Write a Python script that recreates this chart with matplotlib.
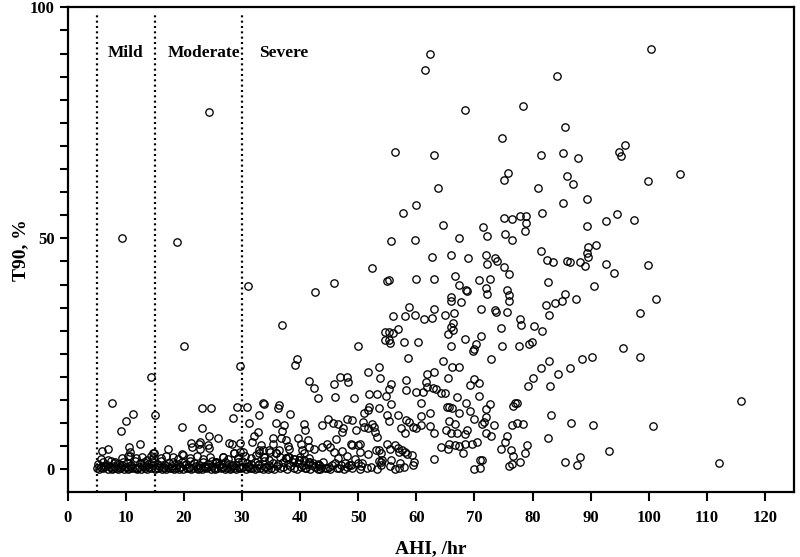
import matplotlib
matplotlib.use("Agg")
import matplotlib.pyplot as plt

plt.rcParams['font.family'] = ['Liberation Serif', 'DejaVu Serif']
plt.rcParams['font.weight'] = 'bold'

# sparse points (upper part of the cloud)
ahi_high = [24.4, 9.3, 18.8, 31.0, 36.8, 39.4, 39.2, 20.1, 14.3, 29.6,
            62.4, 61.5, 68.4, 78.3, 74.8, 56.4, 63.1, 81.4, 75.7, 75.0,
            80.9, 63.7, 60.0, 57.7, 64.6, 75.0, 76.4, 77.9, 78.8, 78.8,
            81.6, 71.4, 72.1, 75.2, 76.4, 78.7, 67.4, 55.7, 59.7, 81.5,
            100.3, 84.2, 85.5, 85.3, 87.8, 94.8, 95.9, 95.2, 105.4, 99.8,
            85.9, 87.0, 85.3, 89.3, 89.4, 92.6, 94.6, 97.4, 89.5, 90.9,
            89.4, 89.6, 82.4, 83.6, 85.9, 86.5, 88.2, 89.0, 92.6, 94.0,
            99.8, 82.7, 90.6, 85.6, 85.0, 83.9, 82.3, 82.9, 87.5, 101.2,
            98.5, 81.6, 95.5, 98.5, 90.2, 88.5, 82.9, 81.5, 86.4, 84.3,
            83.0, 115.8, 83.2, 86.6, 90.4, 100.7, 82.7, 93.2, 88.2, 85.6,
            87.7, 112.1]
t90_high = [77.3, 50.0, 49.3, 39.8, 31.3, 24.0, 22.5, 26.8, 20.0, 22.3,
            89.9, 86.5, 77.7, 78.7, 71.7, 68.7, 68.0, 68.1, 64.1, 62.6,
            61.0, 60.8, 57.3, 55.4, 52.9, 54.5, 54.1, 54.9, 54.9, 53.4,
            55.4, 52.5, 50.6, 50.9, 49.6, 51.6, 50.0, 49.4, 49.6, 47.3,
            90.9, 85.2, 74.0, 68.4, 67.4, 68.7, 70.3, 67.9, 64.0, 62.4,
            63.5, 61.7, 57.7, 58.5, 52.7, 53.7, 55.3, 54.0, 48.2, 48.5,
            46.8, 46.0, 45.3, 44.8, 45.1, 44.9, 44.8, 44.1, 44.5, 42.6,
            44.2, 40.6, 39.6, 37.9, 36.4, 36.1, 35.6, 33.5, 36.9, 36.9,
            33.9, 30.0, 26.2, 24.4, 24.3, 23.9, 23.5, 21.9, 22.0, 20.6,
            18.0, 14.8, 11.8, 10.1, 9.7, 9.4, 6.8, 4.0, 2.7, 1.7,
            0.9, 1.4]

# middle block, AHI 40-80
ahi_mid = [62.7, 65.9, 68.9, 71.9, 73.6, 73.9, 72.2, 75.0, 75.9, 52.3,
           45.9, 42.5, 55.0, 55.3, 59.9, 63.0, 66.7, 67.3, 68.6, 68.7,
           70.8, 72.6, 71.9, 72.2, 75.6, 76.0, 76.0, 66.0, 66.0, 67.7,
           58.7, 58.1, 59.7, 56.0, 63.1, 62.7, 61.4, 65.0, 66.5, 71.2,
           73.6, 73.7, 75.6, 77.9, 78.0, 80.3, 66.3, 66.0, 66.3, 65.5,
           56.9, 54.6, 55.3, 56.0, 54.6, 55.3, 55.4, 57.8, 60.2, 66.0,
           68.3, 70.3, 70.0, 69.8, 71.2, 74.6, 74.8, 77.6, 79.3, 79.9,
           50.0, 58.5, 64.6, 72.9, 66.1, 67.3, 53.6, 51.6, 46.8, 48.0,
           48.3, 45.9, 41.5, 42.4, 43.0, 46.0, 49.2, 53.7, 55.3, 55.6,
           53.3, 51.9, 54.7, 58.3, 58.3, 59.9, 61.2, 61.6, 61.9, 61.8,
           62.9, 63.3, 63.1, 65.4, 64.3, 65.0, 69.9, 80.0, 65.3, 72.0,
           62.4, 60.8, 60.8, 62.3, 63.0, 60.8, 65.1, 63.1, 65.5, 64.2]
t90_mid = [46.0, 46.4, 45.8, 46.5, 45.7, 45.2, 44.4, 43.7, 42.2, 43.6,
           40.4, 38.4, 40.8, 40.9, 41.2, 41.1, 41.8, 40.0, 38.9, 38.7,
           41.0, 41.1, 39.2, 38.0, 38.9, 37.7, 36.5, 37.4, 36.5, 36.3,
           35.2, 33.3, 33.5, 33.2, 34.7, 32.7, 32.5, 33.4, 33.8, 34.8,
           34.6, 34.1, 34.0, 32.5, 31.2, 31.0, 31.7, 30.9, 30.2, 29.3,
           30.4, 29.8, 29.8, 29.6, 28.1, 28.0, 27.3, 27.6, 27.6, 26.8,
           28.2, 27.1, 26.0, 25.7, 28.9, 30.5, 26.8, 26.6, 27.1, 27.6,
           26.8, 24.2, 23.4, 23.8, 22.1, 22.1, 22.2, 21.1, 20.1, 19.9,
           19.0, 18.5, 19.2, 17.7, 15.4, 15.6, 15.4, 19.7, 17.5, 18.5,
           16.4, 16.3, 15.9, 19.3, 17.2, 16.8, 16.8, 19.0, 20.6, 17.9,
           17.7, 17.3, 21.1, 19.7, 16.5, 16.5, 19.5, 19.7, 13.6, 11.3,
           12.3, 11.6, 14.3, 9.5, 7.9, 9.6, 8.5, 2.2, 4.4, 4.8]

# low points, AHI 5-80, T90 under 15
ahi_low = [7.7, 11.3, 10.0, 9.2, 15.1, 23.2, 24.6, 19.6, 23.2, 28.4,
           29.1, 30.8, 31.2, 33.0, 33.6, 33.7, 36.3, 36.2, 38.2, 35.8,
           37.2, 36.8, 40.7, 40.8, 32.7, 32.0, 31.8, 24.3, 25.8, 24.1,
           12.4, 10.6, 10.7, 10.8, 5.9, 7.0, 17.3, 21.3, 21.4, 22.6,
           22.7, 19.6, 14.8, 14.4, 27.8, 28.3, 29.7, 28.7, 29.6, 33.3,
           32.9, 33.0, 33.6, 34.7, 35.3, 35.4, 34.9, 36.4, 37.6, 37.9,
           37.9, 38.1, 39.0, 39.7, 40.1, 40.6, 26.7, 29.3, 30.1, 33.8,
           35.8, 37.6, 39.8, 41.6, 43.3, 25.5, 36.7, 22.7, 24.4, 14.7,
           43.7, 44.8, 45.6, 46.6, 47.3, 47.2, 48.1, 49.0, 49.7, 51.0,
           50.9, 51.0, 51.6, 51.9, 51.6, 52.7, 52.4, 52.9, 53.3, 53.5,
           55.0, 55.3, 55.7, 56.9, 57.3, 58.3, 58.0, 58.7, 59.5, 59.9,
           41.3, 40.3, 41.6, 42.4, 43.8, 44.7, 45.1, 46.1, 45.9, 47.2,
           48.7, 49.0, 49.9, 50.3, 50.3, 51.6, 53.0, 53.6, 54.0, 53.5,
           54.1, 55.0, 55.4, 56.4, 56.9, 57.0, 57.6, 58.1, 58.4, 59.3,
           59.6, 59.4, 39.9, 40.7, 41.6, 41.0, 42.1, 43.0, 43.6, 44.7,
           46.0, 46.7, 47.7, 48.1, 48.4, 50.0, 50.3, 50.7, 53.3, 53.9,
           55.6, 56.4, 57.0, 57.2, 69.3, 70.8, 67.0, 70.7, 65.6, 66.1,
           68.5, 69.3, 67.4, 72.7, 72.0, 65.6, 66.6, 66.0, 67.0, 68.3,
           68.7, 69.9, 71.3, 71.7, 73.4, 72.0, 72.8, 65.6, 66.6, 67.3,
           68.4, 69.6, 70.4, 68.0, 74.6, 75.3, 75.6, 76.3, 76.7, 77.9,
           76.0, 76.5, 78.7, 79.1, 76.5, 77.3, 78.3, 77.0, 77.3, 76.7,
           79.2, 71.0, 71.3, 70.0, 71.0]
t90_low = [14.4, 12.0, 10.4, 8.4, 11.8, 13.3, 13.3, 9.1, 9.0, 11.2,
           13.4, 13.5, 10.0, 11.8, 14.3, 14.1, 13.9, 13.2, 12.0, 10.1,
           9.7, 8.3, 9.9, 8.5, 8.2, 7.2, 6.0, 7.3, 6.7, 5.3,
           5.5, 4.8, 3.8, 3.0, 4.0, 4.4, 4.5, 5.8, 4.9, 5.4,
           4.4, 3.3, 3.5, 2.9, 5.8, 5.4, 5.8, 3.5, 3.8, 5.3,
           4.3, 3.5, 4.2, 4.2, 6.7, 5.6, 3.8, 4.3, 6.3, 5.0,
           2.7, 4.4, 2.2, 6.7, 5.5, 3.6, 2.7, 2.4, 3.8, 2.7,
           3.5, 2.4, 2.0, 1.7, 0.9, 1.7, 6.7, 6.0, 4.7, 3.5,
           9.6, 10.8, 10.1, 9.9, 8.9, 8.2, 10.8, 10.7, 8.5, 12.1,
           10.3, 9.2, 8.9, 13.6, 12.8, 9.2, 9.9, 8.1, 7.1, 13.2,
           11.8, 10.5, 14.1, 11.8, 8.9, 10.7, 7.9, 10.3, 9.2, 8.9,
           6.3, 4.2, 4.9, 4.5, 4.9, 5.5, 4.9, 6.5, 3.8, 4.0,
           5.6, 5.3, 5.3, 5.6, 3.8, 3.3, 4.2, 4.2, 3.5, 1.8,
           2.0, 5.6, 4.4, 5.3, 4.6, 3.8, 4.2, 3.8, 3.3, 3.1,
           1.7, 0.9, 2.7, 2.0, 2.4, 0.2, 0.9, 0.0, 0.6, 0.2,
           1.3, 0.2, 1.3, 0.6, 0.9, 1.3, 0.1, 1.3, 0.1, 1.7,
           2.0, 0.0, 0.2, 1.3, 18.2, 18.6, 15.7, 15.9, 13.5, 13.2,
           14.3, 12.7, 12.3, 14.1, 13.0, 10.5, 9.8, 7.8, 7.9, 7.6,
           8.6, 10.8, 9.8, 10.2, 9.7, 7.9, 7.2, 5.6, 5.3, 5.1,
           5.5, 5.6, 6.0, 3.6, 4.5, 6.0, 7.2, 4.2, 2.9, 1.6,
           0.7, 1.1, 3.6, 5.3, 9.6, 10.1, 9.9, 14.3, 14.4, 13.7,
           18.1, 2.0, 2.0, 0.0, 0.2]

# dense band near T90 = 0
ahi_band = [5.1, 5.4, 5.8, 6.1, 6.5, 6.9, 7.2, 7.6, 7.9, 8.3,
            8.6, 9.0, 9.3, 9.7, 10.1, 10.4, 10.8, 11.1, 11.5, 11.9,
            12.2, 12.6, 12.9, 13.3, 13.7, 14.0, 14.4, 14.7, 15.1, 15.5,
            15.8, 16.2, 16.5, 16.9, 17.3, 17.6, 18.0, 18.3, 18.7, 19.1,
            19.4, 19.8, 20.2, 20.5, 20.9, 21.3, 21.6, 22.0, 22.4, 22.7,
            23.1, 23.5, 23.8, 24.2, 24.6, 24.9, 25.3, 25.7, 26.0, 26.4,
            26.8, 27.1, 27.5, 27.9, 28.3, 28.6, 29.0, 29.4, 29.8, 30.2,
            30.6, 31.0, 31.4, 31.8, 32.3, 32.7, 33.1, 33.6, 34.0, 34.5,
            35.0, 35.5, 36.0, 36.5, 37.1, 37.7, 38.2, 38.9, 39.5, 40.2,
            40.9, 41.7, 42.5, 43.4, 44.3, 45.2, 46.3, 47.5, 49.0, 51.5,
            5.3, 6.0, 6.7, 7.4, 8.0, 8.8, 9.5, 10.2, 10.9, 11.6,
            12.4, 13.1, 13.8, 14.5, 15.3, 16.0, 16.7, 17.4, 18.1, 18.9,
            19.6, 20.4, 21.1, 21.8, 22.6, 23.3, 24.1, 24.8, 25.6, 26.3,
            27.0, 27.8, 28.5, 29.3, 30.0, 30.8, 31.5, 32.3, 33.0, 33.8,
            34.6, 35.4, 36.2, 37.0, 37.9, 38.7, 39.6, 40.5, 41.3, 42.2,
            43.0, 44.0, 45.5, 47.0, 48.8, 50.5, 52.2, 54.0, 55.5, 57.8,
            5.7, 7.0, 8.1, 9.4, 10.4, 11.7, 12.8, 13.6, 14.6, 16.1,
            17.0, 18.1, 18.9, 19.9, 21.0, 22.2, 23.3, 24.5, 25.5, 26.7,
            27.6, 28.7, 29.3, 30.5, 31.6, 32.4, 33.8, 34.6, 35.8, 36.6,
            37.6, 38.1, 39.0, 39.8, 41.6, 43.3, 45.0, 46.5, 48.0, 49.5,
            6.3, 7.8, 9.1, 10.6, 12.0, 13.5, 15.0, 16.4, 17.9, 19.3,
            20.8, 22.3, 23.7, 25.1, 26.6, 28.1, 29.5, 31.1, 32.5, 34.2]
t90_band = [0.3, 0.0, 0.6, 0.2, 0.8, 0.1, 0.5, 0.0, 0.7, 0.3,
            0.0, 0.4, 0.9, 0.1, 0.5, 0.0, 0.7, 0.2, 0.4, 0.0,
            0.6, 0.1, 0.8, 0.3, 0.0, 0.5, 0.2, 0.9, 0.0, 0.4,
            0.7, 0.1, 0.3, 0.0, 0.6, 0.2, 0.8, 0.0, 0.4, 0.1,
            0.5, 0.0, 0.9, 0.2, 0.6, 0.0, 0.3, 0.7, 0.1, 0.4,
            0.0, 0.8, 0.2, 0.5, 0.1, 0.7, 0.0, 0.3, 0.9, 0.2,
            0.6, 0.0, 0.4, 0.1, 0.8, 0.3, 0.0, 0.6, 0.2, 0.5,
            0.0, 0.7, 0.2, 0.4, 0.0, 0.9, 0.3, 0.1, 0.6, 0.0,
            0.4, 0.1, 0.8, 0.2, 0.5, 0.0, 0.7, 0.3, 0.1, 0.6,
            0.2, 0.0, 0.5, 0.1, 0.3, 0.0, 0.4, 0.1, 0.2, 0.3,
            1.2, 1.6, 1.0, 1.8, 1.3, 1.1, 1.7, 1.4, 1.0, 1.9,
            1.3, 1.6, 1.1, 1.5, 1.2, 1.9, 1.0, 1.4, 1.7, 1.2,
            1.5, 1.1, 1.8, 1.3, 1.0, 1.6, 1.2, 1.9, 1.4, 1.1,
            1.7, 1.2, 1.0, 1.5, 1.9, 1.3, 1.1, 1.6, 1.2, 1.8,
            1.0, 1.4, 1.2, 1.7, 1.1, 1.5, 1.3, 1.0, 1.2, 1.4,
            1.1, 1.5, 1.0, 0.9, 1.0, 0.8, 0.6, 0.9, 0.7, 0.5,
            2.2, 2.0, 1.7, 2.4, 3.0, 2.4, 2.6, 2.1, 2.4, 2.4,
            2.8, 2.7, 2.2, 3.1, 2.5, 2.9, 2.3, 2.6, 1.7, 2.7,
            2.2, 3.5, 2.4, 2.9, 2.4, 3.2, 2.7, 2.1, 3.5, 2.6,
            2.4, 2.7, 2.2, 2.0, 1.7, 0.9, 0.6, 2.5, 2.8, 2.2,
            0.5, 0.3, 0.6, 0.2, 0.4, 0.7, 0.3, 0.5, 0.2, 0.6,
            0.4, 0.2, 0.6, 0.3, 0.5, 0.2, 0.4, 0.6, 0.3, 0.5]

cutoffs = [5, 15, 30]
group_names = ['Mild', 'Moderate', 'Severe']
group_label_x = [6.9, 17.2, 33.0]

fig = plt.figure(figsize=(8, 5.57), dpi=100)
ax = fig.add_axes([0.0846, 0.1158, 0.908, 0.871])

for xs, ys in [(ahi_band, t90_band), (ahi_low, t90_low),
               (ahi_mid, t90_mid), (ahi_high, t90_high)]:
    ax.plot(xs, ys, linestyle='none', marker='o', markersize=5.3,
            markerfacecolor='none', markeredgecolor='black',
            markeredgewidth=0.95)

for c in cutoffs:
    ax.plot([c, c], [-5, 98.8], color='black', lw=1.6,
            linestyle=(0, (0.9, 1.5)), dash_capstyle='butt', zorder=1)

for name, x in zip(group_names, group_label_x):
    ax.text(x, 90.1, name, fontsize=12.5, fontweight='bold',
            ha='left', va='center')

ax.set_xlim(0, 125)
ax.set_ylim(-5, 100)
ax.set_xticks(range(0, 121, 10))
ax.set_yticks([0, 50, 100])
ax.set_yticks(range(0, 101, 5), minor=True)

for s in ax.spines.values():
    s.set_linewidth(1.6)
ax.tick_params(which='both', direction='out', width=1.5, labelsize=12)
ax.tick_params(axis='y', which='both', length=6)
ax.tick_params(axis='x', which='major', length=6.5, pad=6)

ax.set_xlabel('AHI, /hr', fontsize=14, fontweight='bold', labelpad=10)
ax.set_ylabel('T90, %', fontsize=14, fontweight='bold', labelpad=0)

fig.savefig('out.png', dpi=100)
